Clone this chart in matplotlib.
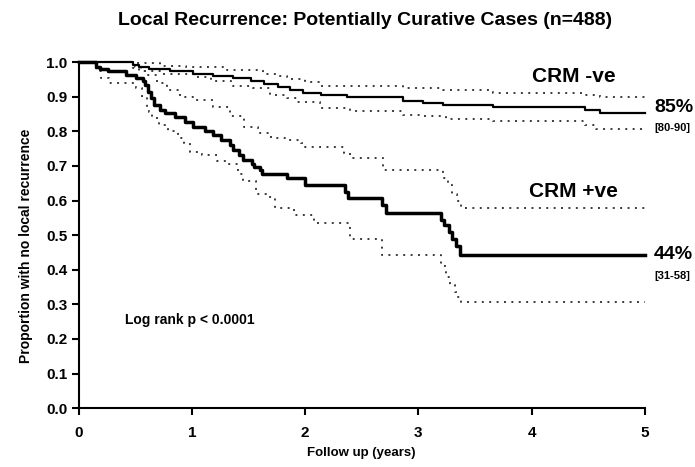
import matplotlib
matplotlib.use("Agg")
import matplotlib.pyplot as plt

plt.rcParams['font.family'] = ['Liberation Sans', 'DejaVu Sans']
plt.rcParams['font.weight'] = 'bold'

# CRM negative (thin solid) and its 95% CI
neg_t = [0, 0.48, 0.53, 0.62, 0.81, 1.01, 1.19, 1.36, 1.52, 1.64, 1.76, 1.87, 1.98, 2.14, 2.37, 2.86, 3.04, 3.22, 3.66, 4.47, 4.60, 5.0]
neg_s = [1.0, 0.991, 0.985, 0.980, 0.974, 0.966, 0.959, 0.953, 0.946, 0.936, 0.927, 0.919, 0.912, 0.904, 0.898, 0.888, 0.881, 0.876, 0.869, 0.861, 0.852, 0.852]

neg_hi_t = [0, 0.50, 0.72, 0.95, 1.31, 1.63, 1.75, 1.84, 2.0, 2.13, 2.86, 3.22, 3.66, 4.47, 4.60, 5.0]
neg_hi_s = [1.0, 0.996, 0.990, 0.986, 0.978, 0.967, 0.960, 0.952, 0.943, 0.932, 0.924, 0.918, 0.911, 0.905, 0.899, 0.899]

neg_lo_t = [0, 0.48, 0.53, 0.72, 1.03, 1.17, 1.35, 1.54, 1.69, 1.84, 1.93, 2.13, 2.40, 2.86, 3.04, 3.24, 3.66, 4.47, 4.57, 5.0]
neg_lo_s = [1.0, 0.983, 0.975, 0.966, 0.956, 0.944, 0.932, 0.924, 0.905, 0.895, 0.886, 0.867, 0.858, 0.848, 0.843, 0.837, 0.830, 0.818, 0.808, 0.808]

# CRM positive (thick solid) and its 95% CI
pos_t = [0, 0.15, 0.19, 0.26, 0.42, 0.51, 0.57, 0.59, 0.61, 0.64, 0.67, 0.72, 0.76, 0.85, 0.94, 1.01, 1.12, 1.19, 1.26, 1.34, 1.36, 1.42, 1.45, 1.53, 1.55, 1.60, 1.62, 1.84, 2.00, 2.35, 2.38, 2.68, 2.71, 3.20, 3.23, 3.27, 3.30, 3.33, 3.37, 5.0]
pos_s = [1.0, 0.987, 0.980, 0.975, 0.964, 0.955, 0.944, 0.934, 0.914, 0.895, 0.876, 0.861, 0.852, 0.842, 0.827, 0.813, 0.800, 0.790, 0.775, 0.760, 0.746, 0.732, 0.717, 0.707, 0.697, 0.688, 0.678, 0.664, 0.645, 0.625, 0.606, 0.587, 0.563, 0.545, 0.528, 0.510, 0.490, 0.470, 0.442, 0.442]

pos_hi_t = [0, 0.50, 0.55, 0.60, 0.69, 0.78, 0.90, 1.04, 1.19, 1.34, 1.46, 1.58, 1.70, 1.82, 1.96, 2.00, 2.34, 2.40, 2.69, 3.22, 3.26, 3.30, 3.34, 3.38, 5.0]
pos_hi_s = [1.0, 0.985, 0.975, 0.962, 0.940, 0.920, 0.900, 0.890, 0.871, 0.843, 0.813, 0.794, 0.782, 0.775, 0.766, 0.755, 0.736, 0.722, 0.688, 0.665, 0.645, 0.620, 0.600, 0.577, 0.577]

pos_lo_t = [0, 0.15, 0.20, 0.27, 0.51, 0.56, 0.60, 0.62, 0.65, 0.71, 0.79, 0.88, 0.93, 0.98, 1.09, 1.22, 1.30, 1.41, 1.45, 1.57, 1.66, 1.73, 1.90, 2.08, 2.40, 2.68, 3.20, 3.24, 3.28, 3.32, 3.35, 3.38, 5.0]
pos_lo_s = [1.0, 0.975, 0.955, 0.939, 0.925, 0.900, 0.870, 0.855, 0.838, 0.818, 0.800, 0.780, 0.765, 0.741, 0.733, 0.713, 0.705, 0.678, 0.655, 0.620, 0.610, 0.577, 0.558, 0.534, 0.488, 0.442, 0.410, 0.380, 0.355, 0.335, 0.320, 0.307, 0.307]

fig = plt.figure(figsize=(6.95, 4.67), dpi=100)
ax = fig.add_axes([0.113, 0.126, 0.815, 0.741])

dot = dict(color='#3a3a3a', lw=1.4, dashes=(1, 2.8), clip_on=False)
for t, s in [(neg_hi_t, neg_hi_s), (neg_lo_t, neg_lo_s), (pos_hi_t, pos_hi_s), (pos_lo_t, pos_lo_s)]:
    ax.step(t, s, where='post', **dot)

ax.step(neg_t, neg_s, where='post', color='black', lw=1.6, clip_on=False)
ax.step(pos_t, pos_s, where='post', color='black', lw=2.5, clip_on=False)

ax.set_xlim(0, 5)
ax.set_ylim(0, 1.0)
ax.set_xticks(range(6))
ax.set_yticks([i / 10 for i in range(11)])
ax.set_yticklabels(['%.1f' % (i / 10) for i in range(11)])
ax.tick_params(direction='out', length=5, width=1.5, labelsize=11, pad=3)
for lab in ax.get_xticklabels() + ax.get_yticklabels():
    lab.set_fontweight('bold')
ax.tick_params(axis='x', pad=8)
for side in ['top', 'right']:
    ax.spines[side].set_visible(False)
for side in ['left', 'bottom']:
    ax.spines[side].set_linewidth(1.5)

ax.set_xlabel('Follow up (years)', fontsize=9.5, fontweight='bold', labelpad=5)
ax.set_ylabel('Proportion with no local recurrence', fontsize=10, fontweight='bold')
ax.yaxis.set_label_coords(-0.08, 0.47)

fig.text(0.525, 0.956, 'Local Recurrence: Potentially Curative Cases (n=488)',
         ha='center', va='center', fontsize=14, fontweight='bold')

ax.text(4.37, 0.957, 'CRM -ve', ha='center', va='center', fontsize=15, fontweight='bold')
ax.text(4.37, 0.625, 'CRM +ve', ha='center', va='center', fontsize=15, fontweight='bold')
ax.text(5.08, 0.868, '85%', ha='left', va='center', fontsize=14, fontweight='bold', clip_on=False)
ax.text(5.08, 0.81, '[80-90]', ha='left', va='center', fontsize=8, fontweight='bold', clip_on=False)
ax.text(5.08, 0.445, '44%', ha='left', va='center', fontsize=14, fontweight='bold', clip_on=False)
ax.text(5.08, 0.383, '[31-58]', ha='left', va='center', fontsize=8, fontweight='bold', clip_on=False)
ax.text(0.41, 0.254, 'Log rank p < 0.0001', ha='left', va='center', fontsize=10, fontweight='bold')

fig.savefig('out.png', dpi=100)
